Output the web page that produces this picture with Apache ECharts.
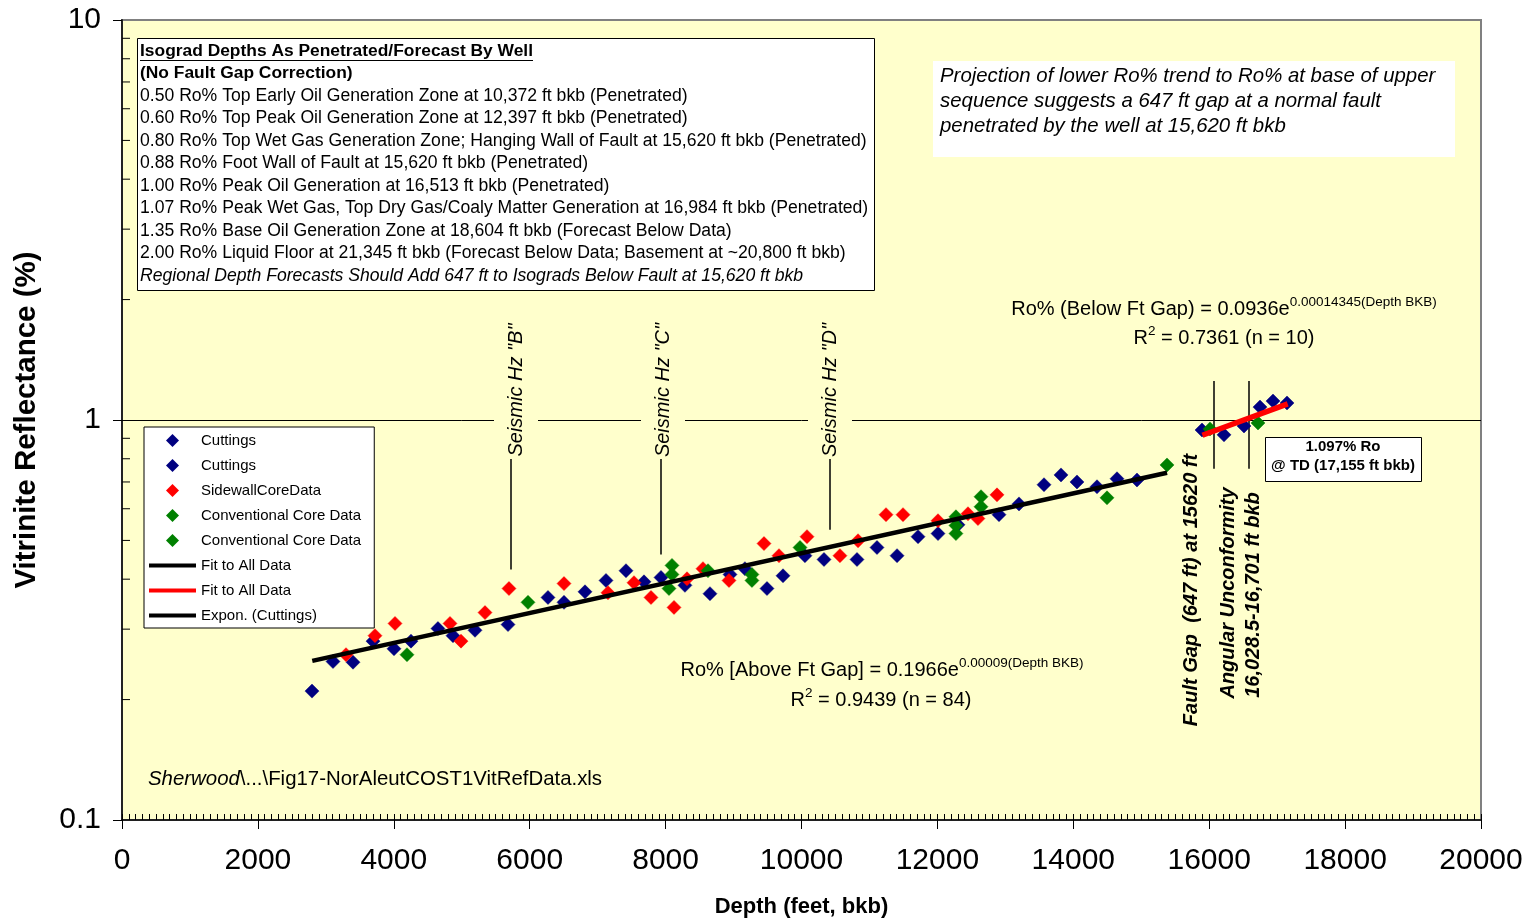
<!DOCTYPE html>
<html>
<head>
<meta charset="utf-8">
<title>Vitrinite Reflectance vs Depth</title>
<script src="https://cdn.jsdelivr.net/npm/echarts@6.0.0/dist/echarts.min.js"></script>
<style>
  html, body { margin: 0; padding: 0; background: #ffffff; }
  #chart { width: 1528px; height: 923px; }
</style>
</head>
<body>
<div id="chart"></div>
<script>
// ---- Data (depth in feet below kelly bushing, Ro in %) ----
const cuttingsAbove = [
  [2796, 0.210], [3105, 0.249], [3400, 0.248], [3694, 0.280], [4003, 0.268],
  [4253, 0.280], [4650, 0.301], [4871, 0.289], [5195, 0.298], [5681, 0.308],
  [6269, 0.360], [6505, 0.350], [6814, 0.372], [7123, 0.397], [7417, 0.420],
  [7682, 0.394], [7932, 0.404], [8285, 0.386], [8653, 0.368], [8948, 0.411],
  [9168, 0.425], [9492, 0.379], [9728, 0.408], [10051, 0.458], [10331, 0.448],
  [10817, 0.448], [11111, 0.480], [11406, 0.458], [11715, 0.511], [12009, 0.520],
  [12303, 0.547], [12907, 0.580], [13201, 0.617], [13569, 0.689], [13819, 0.729],
  [14054, 0.700], [14349, 0.681], [14643, 0.713], [14937, 0.708]
];
const cuttingsBelow = [
  [15894, 0.944], [16218, 0.918], [16512, 0.966], [16748, 1.077], [16939, 1.115], [17145, 1.103]
];
const sidewallCores = [
  [3297, 0.259], [3723, 0.289], [4018, 0.310], [4827, 0.310], [4989, 0.280],
  [5342, 0.330], [5695, 0.379], [6505, 0.390], [7152, 0.370], [7535, 0.392],
  [7785, 0.360], [8124, 0.340], [8315, 0.401], [8550, 0.425], [8933, 0.397],
  [9448, 0.491], [9669, 0.458], [10081, 0.511], [10566, 0.458], [10832, 0.499],
  [11244, 0.580], [11494, 0.580], [12009, 0.560], [12450, 0.583], [12597, 0.567],
  [12877, 0.650]
];
const convCoresAbove = [
  [4194, 0.259], [5975, 0.350], [8050, 0.379], [8094, 0.411], [8094, 0.433],
  [8624, 0.420], [9271, 0.397], [9271, 0.411], [9978, 0.480], [12273, 0.520],
  [12273, 0.545], [12273, 0.573], [12642, 0.607], [12642, 0.643], [14496, 0.639],
  [15379, 0.772]
];
const convCoresBelow = [[16012, 0.950], [16718, 0.983]];

// Exponential fits, end points (straight on the log scale)
const fitAbove = [[2800, 0.250], [15380, 0.738]];
const fitBelow = [[15900, 0.916], [17155, 1.097]];

// Picked horizons and fault / unconformity markers: depth and Ro span of each stick
const seismicHorizons = [
  { label: 'Seismic Hz "B"', depth: 5725, roFrom: 0.423, roTo: 0.799 },
  { label: 'Seismic Hz "C"', depth: 7932, roFrom: 0.461, roTo: 0.799 },
  { label: 'Seismic Hz "D"', depth: 10419, roFrom: 0.532, roTo: 0.799 }
];
const faultMarkers = [
  { depth: 16060, roFrom: 0.755, roTo: 1.251 },
  { depth: 16580, roFrom: 0.755, roTo: 1.251 }
];

// Axis ticks
const depthRange = [0, 20000];
const depthStep = 2000;
const depthMinorStep = 100;
const roRange = [0.1, 10];
const roMinorTicks = [0.2, 0.3, 0.4, 0.5, 0.6, 0.7, 0.8, 0.9, 2, 3, 4, 5, 6, 7, 8, 9];

// Legend entries (trailing space keeps repeated captions as separate entries)
const legendNames = [
  'Cuttings', 'Cuttings ', 'SidewallCoreData', 'Conventional Core Data',
  'Conventional Core Data ', 'Fit to All Data', 'Fit to All Data ', 'Expon. (Cuttings)'
];

const isogradLines = [
  'Isograd Depths As Penetrated/Forecast By Well',
  '(No Fault Gap Correction)',
  '0.50 Ro% Top Early Oil Generation Zone at 10,372 ft bkb (Penetrated)',
  '0.60 Ro% Top Peak Oil Generation Zone at 12,397 ft bkb (Penetrated)',
  '0.80 Ro% Top Wet Gas Generation Zone; Hanging Wall of Fault at 15,620 ft bkb (Penetrated)',
  '0.88 Ro% Foot Wall of Fault at 15,620 ft bkb (Penetrated)',
  '1.00 Ro% Peak Oil Generation at 16,513 ft bkb (Penetrated)',
  '1.07 Ro% Peak Wet Gas, Top Dry Gas/Coaly Matter Generation at 16,984 ft bkb (Penetrated)',
  '1.35 Ro% Base Oil Generation Zone at 18,604 ft bkb (Forecast Below Data)',
  '2.00 Ro% Liquid Floor at 21,345 ft bkb (Forecast Below Data; Basement at ~20,800 ft bkb)',
  'Regional Depth Forecasts Should Add 647 ft to Isograds Below Fault at 15,620 ft bkb'
];
const projectionLines = [
  'Projection of lower Ro% trend to Ro% at base of upper',
  'sequence suggests a 647 ft gap at a normal fault',
  'penetrated by the well at 15,620 ft bkb'
];

// ---- Drawing ----
const SANS = '"Liberation Sans", Arial, Helvetica, sans-serif';
const NAVY = '#000080', RED = '#FF0000', GREEN = '#008000', PLOT_BG = '#FFFFCC';

function text(x, y, str, font, extra) {
  extra = extra || {};
  return {
    type: 'text', x: x, y: y, z: 100, rotation: extra.rotation || 0,
    style: Object.assign({
      text: str, font: font, fill: '#000',
      align: extra.align || 'left', textAlign: extra.align || 'left',
      verticalAlign: 'middle', textVerticalAlign: 'middle'
    }, extra.style || {})
  };
}
function box(x, y, w, h, stroke) {
  return {
    type: 'rect', z: 99, shape: { x: x, y: y, width: w, height: h },
    style: { fill: '#ffffff', stroke: stroke || null, lineWidth: 1 }
  };
}

const graphics = [];
// Isograd summary box
graphics.push(box(137.5, 38.5, 737, 252, '#000'));
isogradLines.forEach(function (s, i) {
  let font = '17.6px ' + SANS;
  if (i < 2) font = 'bold 17.4px ' + SANS;
  if (i === isogradLines.length - 1) font = 'italic 17.6px ' + SANS;
  graphics.push(text(140, 51 + i * 22.5, s, font));
});
graphics.push({ type: 'line', z: 100, shape: { x1: 140, y1: 60.5, x2: 533, y2: 60.5 }, style: { stroke: '#000', lineWidth: 1.2 } });

// Projection note
graphics.push(box(933, 61, 522, 96, null));
projectionLines.forEach(function (s, i) {
  graphics.push(text(940, 76 + i * 25, s, 'italic 20.4px ' + SANS));
});

// Fit equations
const richEq = {
  a: { font: '20px ' + SANS, lineHeight: 28, fill: '#000' },
  s: { font: '13.5px ' + SANS, lineHeight: 12, verticalAlign: 'top', fill: '#000' }
};
graphics.push(text(1224, 309, '{a|Ro% (Below Ft Gap) = 0.0936e}{s|0.00014345(Depth BKB)}', '20px ' + SANS, { align: 'center', style: { rich: richEq } }));
graphics.push(text(1224, 338, '{a|R}{s|2}{a| = 0.7361 (n = 10)}', '20px ' + SANS, { align: 'center', style: { rich: richEq } }));
graphics.push(text(882, 670, '{a|Ro% [Above Ft Gap] = 0.1966e}{s|0.00009(Depth BKB)}', '20px ' + SANS, { align: 'center', style: { rich: richEq } }));
graphics.push(text(881, 700, '{a|R}{s|2}{a| = 0.9439 (n = 84)}', '20px ' + SANS, { align: 'center', style: { rich: richEq } }));

// TD callout
graphics.push(box(1265.5, 437.5, 156, 44, '#000'));
graphics.push(text(1343, 447, '1.097% Ro', 'bold 15px ' + SANS, { align: 'center' }));
graphics.push(text(1343, 466, '@ TD (17,155 ft bkb)', 'bold 15px ' + SANS, { align: 'center' }));

// File reference
graphics.push(text(148, 779, '{i|Sherwood}{r|\\...\\Fig17-NorAleutCOST1VitRefData.xls}', '20.4px ' + SANS, {
  style: { rich: { i: { font: 'italic 20.4px ' + SANS, fill: '#000' }, r: { font: '20.4px ' + SANS, fill: '#000' } } }
}));

// Horizon captions (plot-coloured backing breaks the Ro = 1 line)
const horizonCaptionX = [516, 663, 830];
seismicHorizons.forEach(function (h, i) {
  graphics.push(text(horizonCaptionX[i], 390, h.label, 'italic 20px ' + SANS, {
    align: 'center', rotation: Math.PI / 2,
    style: { backgroundColor: PLOT_BG, padding: [12, 2, 12, 2] }
  }));
});
// Fault / unconformity captions
graphics.push(text(1191, 590, 'Fault Gap  (647 ft) at 15620 ft', 'bold italic 20px ' + SANS, { align: 'center', rotation: Math.PI / 2 }));
graphics.push(text(1228, 593, 'Angular Unconformity', 'bold italic 20px ' + SANS, { align: 'center', rotation: Math.PI / 2 }));
graphics.push(text(1253, 595, '16,028.5-16,701 ft bkb', 'bold italic 20px ' + SANS, { align: 'center', rotation: Math.PI / 2 }));

// Reference line at Ro = 1 plus the vertical marker sticks
const markLineData = [{ yAxis: 1, lineStyle: { color: '#000', width: 1, type: 'solid' } }];
seismicHorizons.concat(faultMarkers).forEach(function (m) {
  markLineData.push([
    { coord: [m.depth, m.roFrom], lineStyle: { color: '#000', width: 1.5, type: 'solid' } },
    { coord: [m.depth, m.roTo] }
  ]);
});

function scatter(name, data, color, extra) {
  return Object.assign({
    name: name, type: 'scatter', data: data, symbol: 'diamond', symbolSize: 14,
    itemStyle: { color: color, borderColor: color, borderWidth: 0.5, opacity: 1 }, z: 2
  }, extra || {});
}
function fitLine(name, data, color, width) {
  return {
    name: name, type: 'line', data: data, symbol: 'none', showSymbol: false, z: 3,
    lineStyle: { color: color, width: width }, itemStyle: { color: color }
  };
}

// Legend icon: a diamond centred in the 47 x 14 icon cell
const LEGEND_DIAMOND = 'path://M0,0M47,14M23.5,0.5L30,7L23.5,13.5L17,7Z';
const legendData = legendNames.map(function (n, i) {
  if (i < 5) return { name: n, icon: LEGEND_DIAMOND, itemStyle: { borderWidth: 0, opacity: 1 } };
  // line entries: stroke only, no point symbol
  return { name: n, itemStyle: { opacity: 0 }, lineStyle: { width: 4 } };
});

const option = {
  animation: false,
  backgroundColor: '#ffffff',
  textStyle: { fontFamily: SANS },
  grid: {
    left: 122, right: 47, top: 20, bottom: 101,
    show: true, backgroundColor: PLOT_BG, borderColor: '#808080', borderWidth: 2
  },
  legend: {
    data: legendData,
    orient: 'vertical', left: 144, top: 427,
    padding: [6, 9, 5, 3], itemWidth: 47, itemHeight: 14, itemGap: 10,
    backgroundColor: '#ffffff', borderColor: '#000', borderWidth: 1,
    selectedMode: false,
    textStyle: { fontSize: 15, color: '#000', fontFamily: SANS, lineHeight: 14 }
  },
  xAxis: [{
    type: 'value', min: depthRange[0], max: depthRange[1], interval: depthStep,
    name: 'Depth (feet, bkb)', nameLocation: 'middle', nameGap: 76,
    nameTextStyle: { fontSize: 22, fontWeight: 'bold', color: '#000', fontFamily: SANS },
    axisLine: { show: true, onZero: false, lineStyle: { color: '#000', width: 1.5 } },
    axisTick: { show: true, length: 9, lineStyle: { color: '#000' } },
    axisLabel: { fontSize: 30, color: '#000', margin: 26, fontFamily: SANS,
      formatter: function (v) { return String(v); } },
    splitLine: { show: false }
  }, {
    type: 'value', min: depthRange[0], max: depthRange[1], interval: depthMinorStep,
    position: 'bottom', gridIndex: 0,
    axisLine: { show: false },
    axisTick: { show: true, inside: true, length: 6, lineStyle: { color: '#000' } },
    axisLabel: { show: false }, splitLine: { show: false }
  }],
  yAxis: {
    type: 'log', logBase: 10, min: roRange[0], max: roRange[1],
    name: 'Vitrinite Reflectance (%)', nameLocation: 'middle', nameGap: 80,
    nameTextStyle: { fontSize: 29.5, fontWeight: 'bold', color: '#000', fontFamily: SANS },
    axisLine: { show: true, onZero: false, lineStyle: { color: '#222', width: 2 } },
    axisTick: { show: true, length: 9, lineStyle: { color: '#000' } },
    axisLabel: { fontSize: 30, color: '#000', margin: 21, fontFamily: SANS },
    splitLine: { show: false }
  },
  graphic: { elements: graphics },
  series: [
    scatter('Cuttings', cuttingsAbove, NAVY, {
      markLine: {
        silent: true, symbol: ['none', 'none'], z: 1, animation: false,
        label: { show: false }, data: markLineData
      }
    }),
    scatter('Cuttings ', cuttingsBelow, NAVY),
    scatter('SidewallCoreData', sidewallCores, RED),
    scatter('Conventional Core Data', convCoresAbove, GREEN),
    scatter('Conventional Core Data ', convCoresBelow, GREEN),
    fitLine('Fit to All Data', fitAbove, '#000', 4.5),
    fitLine('Fit to All Data ', fitBelow, RED, 5.5),
    fitLine('Expon. (Cuttings)', [], '#000', 4),
    {
      // inward minor ticks on the log Ro axis
      type: 'custom', silent: true, z: 4,
      data: roMinorTicks.map(function (v) { return [depthRange[0], v]; }),
      renderItem: function (params, api) {
        const p = api.coord([api.value(0), api.value(1)]);
        return {
          type: 'line',
          shape: { x1: p[0], y1: p[1], x2: p[0] + 8, y2: p[1] },
          style: { stroke: '#000', lineWidth: 1 }
        };
      }
    }
  ]
};

const chart = echarts.init(document.getElementById('chart'), null, { renderer: 'canvas' });
chart.setOption(option);
</script>
</body>
</html>
